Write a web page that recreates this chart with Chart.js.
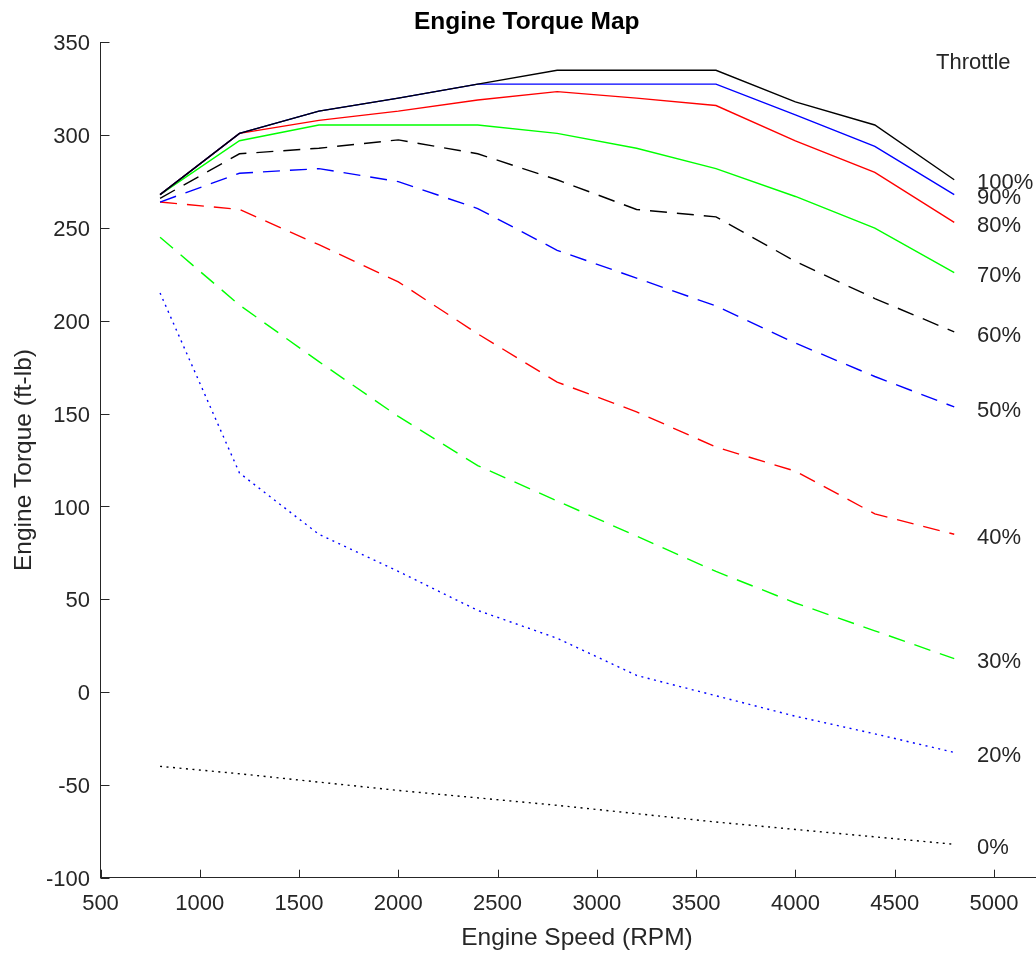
<!DOCTYPE html>
<html><head><meta charset="utf-8">
<script src="https://cdn.jsdelivr.net/npm/chart.js@4/dist/chart.umd.min.js"></script>
<style>
html,body{margin:0;padding:0;background:#fff;overflow:hidden;}
#wrap{width:1036px;height:953px;overflow:hidden;position:relative;background:#fff;}
#c{position:absolute;left:0;top:0;}
</style></head><body>
<div id="wrap"><canvas id="c" width="1154" height="953"></canvas></div>
<script>
// ---- data ----
const rpm = [800, 1200, 1600, 2000, 2400, 2800, 3200, 3600, 4000, 4400, 4800];
const throttle100 = [268, 301, 313, 320, 327.5, 335, 335, 335, 318, 305.5, 276];
const throttle90  = [268, 301, 313, 320, 327.5, 327.5, 327.5, 327.5, 311, 294, 268];
const throttle80  = [268, 301, 308, 313, 319, 323.5, 320, 316, 297, 280, 253];
const throttle70  = [268, 297, 305.5, 305.5, 305.5, 301, 293, 282, 267, 250, 226];
const throttle60  = [266, 290, 293, 297.5, 290, 276, 260, 256, 232, 212, 194];
const throttle50  = [264, 279.5, 282, 275, 260.5, 238, 223, 208, 188, 170, 153.6];
const throttle40  = [264, 260, 241, 221, 193, 167, 151, 132, 119, 96, 85];
const throttle30  = [245, 208.5, 178, 148.5, 122, 103, 84, 65, 48, 33, 18];
const throttle20  = [215, 118, 85, 65, 44, 29, 9, -2, -13, -22.5, -32.5];
const throttle0   = [-40, -44, -48.5, -53, -57, -61, -65.5, -70, -74, -78, -82];
const seriesLabels = ['100%', '90%', '80%', '70%', '60%', '50%', '40%', '30%', '20%', '0%'];
const xTickValues = [500, 1000, 1500, 2000, 2500, 3000, 3500, 4000, 4500, 5000];
const yTickValues = [-100, -50, 0, 50, 100, 150, 200, 250, 300, 350];
const chartTitle = 'Engine Torque Map';
const xTitle = 'Engine Speed (RPM)';
const yTitle = 'Engine Torque (ft-lb)';
const legendTitle = 'Throttle';

// ---- styles ----
const FONT = "'Liberation Sans', Arial, Helvetica, sans-serif";
const TXT = '#262626';
const allSeries = [throttle100, throttle90, throttle80, throttle70, throttle60, throttle50, throttle40, throttle30, throttle20, throttle0];
const colors = ['#000000', '#0000ff', '#ff0000', '#00ff00', '#000000', '#0000ff', '#ff0000', '#00ff00', '#0000ff', '#000000'];
const DASH = [17, 10], DOT = [2, 4.5];
const dashes = [[], [], [], [], DASH, DASH, DASH, DASH, DOT, DOT];

const datasets = allSeries.map((vals, i) => ({
  label: seriesLabels[i],
  data: rpm.map((x, j) => ({x: x, y: vals[j]})),
  borderColor: colors[i],
  borderDash: dashes[i],
  borderWidth: 1.4,
  fill: false,
  pointRadius: 0,
  tension: 0,
  borderCapStyle: 'butt',
  borderJoinStyle: 'miter'
}));

const decor = {
  id: 'decor',
  afterDatasetsDraw(chart) {
    const ctx = chart.ctx, xs = chart.scales.x, ys = chart.scales.y;
    const ca = chart.chartArea;
    ctx.save();
    // inward tick marks
    ctx.strokeStyle = TXT; ctx.lineWidth = 1;
    ctx.beginPath();
    xTickValues.forEach(v => {
      const px = Math.round(xs.getPixelForValue(v)) + 0.5;
      ctx.moveTo(px, ca.bottom); ctx.lineTo(px, ca.bottom - 8);
    });
    yTickValues.forEach(v => {
      const py = Math.round(ys.getPixelForValue(v)) + 0.5;
      ctx.moveTo(ca.left, py); ctx.lineTo(ca.left + 9, py);
    });
    ctx.stroke();
    // text annotations
    ctx.fillStyle = TXT;
    ctx.font = '22px ' + FONT;
    ctx.textAlign = 'left';
    ctx.textBaseline = 'middle';
    ctx.fillText(legendTitle, xs.getPixelForValue(4708), ys.getPixelForValue(339));
    allSeries.forEach((vals, i) => {
      const last = vals[vals.length - 1];
      ctx.fillText(seriesLabels[i], xs.getPixelForValue(4915), ys.getPixelForValue(last) + 3.5);
    });
    ctx.restore();
  }
};

new Chart(document.getElementById('c'), {
  type: 'line',
  data: {datasets: datasets},
  plugins: [decor],
  options: {
    responsive: false,
    animation: false,
    layout: {padding: {left: 0, right: 100.5, top: 0, bottom: 0}},
    plugins: {
      legend: {display: false},
      tooltip: {enabled: false},
      title: {display: true, text: chartTitle, color: '#000',
        font: {family: FONT, size: 24.5, weight: 'bold'}, padding: {top: 7.5, bottom: 5.5}}
    },
    scales: {
      x: {
        type: 'linear', min: 500, max: 5300,
        afterFit(s) { s.height = 75.3; },
        afterBuildTicks(s) { s.ticks = xTickValues.map(v => ({value: v})); },
        grid: {display: false, drawTicks: false},
        border: {display: true, color: TXT, width: 1},
        ticks: {color: TXT, font: {family: FONT, size: 22}, padding: 13, maxRotation: 0, autoSkip: false,
          callback: v => String(v)},
        title: {display: true, text: xTitle, color: TXT, font: {family: FONT, size: 24.5}, padding: {top: 0, bottom: 0}}
      },
      y: {
        type: 'linear', min: -100, max: 350,
        afterFit(s) { s.width = 100.5; },
        afterBuildTicks(s) { s.ticks = yTickValues.map(v => ({value: v})); },
        grid: {display: false, drawTicks: false},
        border: {display: true, color: TXT, width: 1},
        ticks: {color: TXT, font: {family: FONT, size: 22}, padding: 10.5, autoSkip: false, labelOffset: 2,
          callback: v => String(v)},
        title: {display: true, text: yTitle, color: TXT, font: {family: FONT, size: 24.5}, padding: {top: 10, bottom: 0}}
      }
    }
  }
});
</script>
</body></html>
